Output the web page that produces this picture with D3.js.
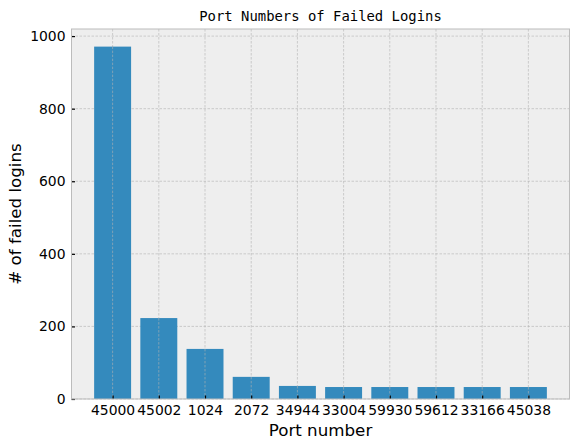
<!DOCTYPE html>
<html>
<head>
<meta charset="utf-8">
<script src="https://cdn.jsdelivr.net/npm/d3@7"></script>
<style>
  body { margin: 0; background: #fff; }
  svg { display: block; }
  .tick text { font-family: "DejaVu Sans", sans-serif; font-size: 13.9px; fill: #000; }
</style>
</head>
<body>
<svg width="576" height="448"></svg>
<script>
// Ports and their failed login counts
const ports = ["45000", "45002", "1024", "2072", "34944", "33004", "59930", "59612", "33166", "45038"];
const failures = [971, 223, 138, 61, 36, 33, 33, 33, 33, 33];
const yTicks = [0, 200, 400, 600, 800, 1000];

const svg = d3.select("svg");
const plotL = 71.5, plotR = 569.5, plotT = 29, plotB = 399;

const xScale = d3.scaleLinear()
  .domain([-0.89, ports.length - 1 + 0.89])
  .range([plotL, plotR]);

const yScale = d3.scaleLinear()
  .domain([0, d3.max(failures) * 1.05])
  .range([plotB, plotT]);

// plot background
svg.append("rect")
  .attr("x", plotL)
  .attr("y", plotT)
  .attr("width", plotR - plotL)
  .attr("height", plotB - plotT)
  .attr("fill", "#eeeeee");

// grid
const grid = svg.append("g")
  .attr("stroke", "#b2b2b2")
  .attr("stroke-width", 0.6)
  .attr("stroke-dasharray", "2.5,1.5");

grid.selectAll(".vg")
  .data(ports)
  .enter()
  .append("line")
  .attr("x1", (d, i) => xScale(i))
  .attr("x2", (d, i) => xScale(i))
  .attr("y1", plotT)
  .attr("y2", plotB);

grid.selectAll(".hg")
  .data(yTicks)
  .enter()
  .append("line")
  .attr("x1", plotL)
  .attr("x2", plotR)
  .attr("y1", d => yScale(d))
  .attr("y2", d => yScale(d));

// bars
const bw = xScale(0.8) - xScale(0);
svg.selectAll(".bar")
  .data(failures)
  .enter()
  .append("rect")
  .attr("class", "bar")
  .attr("x", (d, i) => xScale(i - 0.4))
  .attr("y", d => yScale(d))
  .attr("width", bw)
  .attr("height", d => plotB - yScale(d))
  .attr("fill", "#348abd");

// vertical grid shows over bars in the reference
svg.append("g")
  .attr("stroke", "#b2b2b2")
  .attr("stroke-width", 0.6)
  .attr("stroke-dasharray", "2.5,1.5")
  .selectAll("line")
  .data(failures)
  .enter()
  .append("line")
  .attr("x1", (d, i) => xScale(i))
  .attr("x2", (d, i) => xScale(i))
  .attr("y1", d => yScale(d))
  .attr("y2", plotB);

// axes
const xAxis = d3.axisBottom(xScale)
  .tickValues(d3.range(ports.length))
  .tickFormat(i => ports[i])
  .tickSizeInner(-3.5)
  .tickSizeOuter(0)
  .tickPadding(6);

svg.append("g")
  .attr("transform", `translate(0, ${plotB})`)
  .call(xAxis)
  .call(g => g.select(".domain").remove())
  .call(g => g.selectAll(".tick line").attr("stroke", "#000").attr("stroke-width", 1.2));

const yAxis = d3.axisLeft(yScale)
  .tickValues(yTicks)
  .tickFormat(d3.format("d"))
  .tickSizeInner(-3.5)
  .tickSizeOuter(0)
  .tickPadding(6);

svg.append("g")
  .attr("transform", `translate(${plotL}, 0)`)
  .call(yAxis)
  .call(g => g.select(".domain").remove())
  .call(g => g.selectAll(".tick line").attr("stroke", "#000").attr("stroke-width", 1.2));

// frame
svg.append("rect")
  .attr("x", plotL)
  .attr("y", plotT)
  .attr("width", plotR - plotL)
  .attr("height", plotB - plotT)
  .attr("fill", "none")
  .attr("stroke", "#bcbcbc")
  .attr("stroke-width", 1);

// labels
svg.append("text")
  .attr("x", (plotL + plotR) / 2)
  .attr("y", 21)
  .attr("text-anchor", "middle")
  .style("font-family", "'DejaVu Sans Mono', monospace")
  .style("font-size", "13.9px")
  .text("Port Numbers of Failed Logins");

svg.append("text")
  .attr("x", (plotL + plotR) / 2)
  .attr("y", 436)
  .attr("text-anchor", "middle")
  .style("font-family", "'DejaVu Sans', sans-serif")
  .style("font-size", "16.7px")
  .text("Port number");

svg.append("text")
  .attr("transform", "rotate(-90)")
  .attr("x", -(plotT + plotB) / 2)
  .attr("y", 21)
  .attr("text-anchor", "middle")
  .style("font-family", "'DejaVu Sans', sans-serif")
  .style("font-size", "16.7px")
  .text("# of failed logins");
</script>
</body>
</html>
